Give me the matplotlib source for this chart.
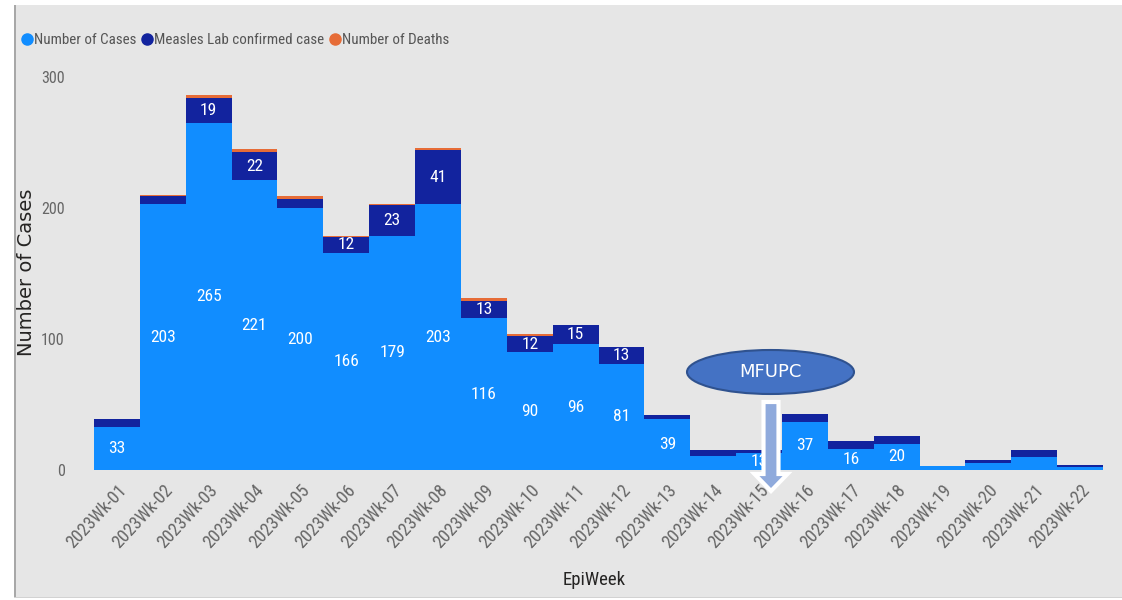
import numpy as np
import matplotlib
matplotlib.use("Agg")
import matplotlib.pyplot as plt
from matplotlib import font_manager
from matplotlib.patches import Rectangle, Ellipse, FancyArrow
from matplotlib.lines import Line2D

## data
weeks = ['2023Wk-%02d' % i for i in range(1, 23)]
cases = [33, 203, 265, 221, 200, 166, 179, 203, 116, 90, 96, 81, 39, 11, 13, 37, 16, 20, 3, 5, 10, 2]
lab = [6, 6, 19, 22, 7, 12, 23, 41, 13, 12, 15, 13, 3, 4, 2, 6, 6, 6, 0, 3, 5, 2]
deaths = [0, 1, 2, 2, 2, 1, 1, 2, 2, 2, 0, 0, 0, 0, 0, 0, 0, 0, 0, 0, 0, 0]
yticks = [0, 100, 200, 300]
legend_labels = ['Number of Cases', 'Measles Lab confirmed case', 'Number of Deaths']

c_cases = '#118DFF'
c_lab = '#12239E'
c_death = '#E66C37'

## pick a narrow font that is installed, Roboto otherwise
have = {f.name for f in font_manager.fontManager.ttflist}
narrow_name = 'Roboto'
for name in ['Liberation Sans Narrow', 'Roboto Condensed', 'Open Sans Condensed',
             'Noto Sans Condensed', 'DejaVu Sans Condensed']:
    if name in have:
        narrow_name = name
        break
narrow = [narrow_name, 'DejaVu Sans']
is_narrow = narrow_name != 'Roboto'
k = 1.0 if is_narrow else 0.85  ## shrink a bit when only the wide font is there

W, H = 1122, 600
fig = plt.figure(figsize=(W / 100, H / 100), dpi=100)
fig.patch.set_facecolor('white')

def px(x, y):
    ## pixel (from top-left) -> figure fraction
    return x / W, 1 - y / H

## grey panel + left/bottom border
x0, y0 = px(14, 598)
fig.patches.append(Rectangle((x0, y0), 1 - x0, 593 / H, transform=fig.transFigure,
                             facecolor='#E6E6E6', edgecolor='none', zorder=-10))
fig.patches.append(Rectangle((x0, y0), 2 / W, 593 / H, transform=fig.transFigure,
                             facecolor='#A8A8A8', edgecolor='none', zorder=-9))
fig.patches.append(Rectangle((x0, y0), 1 - x0, 1.5 / H, transform=fig.transFigure,
                             facecolor='#D2D2D2', edgecolor='none', zorder=-9))

left, bottom = px(94, 470)
_, top = px(0, 77)
ax = fig.add_axes([left, bottom, (1103 - 94) / W, top - bottom])
ax.set_facecolor('none')

x = np.arange(len(weeks))
cases = np.array(cases)
lab = np.array(lab)
deaths = np.array(deaths)
ax.bar(x, cases, width=1.0, color=c_cases, linewidth=0)
ax.bar(x, lab, width=1.0, bottom=cases, color=c_lab, linewidth=0)
ax.bar(x, deaths, width=1.0, bottom=cases + lab, color=c_death, linewidth=0)

## data labels (only where they fit)
for i in range(len(weeks)):
    if cases[i] >= 12:
        ax.text(x[i], cases[i] / 2, str(cases[i]), ha='center', va='center',
                color='white', fontsize=12.5 * k, family=narrow)
    if lab[i] >= 12:
        ax.text(x[i], cases[i] + lab[i] / 2, str(lab[i]), ha='center', va='center',
                color='white', fontsize=12.5 * k, family=narrow)

ax.set_xlim(-0.5, len(weeks) - 0.5)
ax.set_ylim(0, 300)
ax.set_yticks(yticks)
ax.set_yticklabels([str(v) for v in yticks], family=narrow, fontsize=11.5 * k, color='#666666')
ax.set_xticks(x)
ax.set_xticklabels(weeks, rotation=47, ha='right', rotation_mode='anchor',
                   family=narrow, fontsize=13 * k, color='#666666')
ax.tick_params(axis='y', length=0, pad=21)
ax.tick_params(axis='x', length=0, pad=8)
for s in ax.spines.values():
    s.set_visible(False)

fig.text(*px(27, 272), 'Number of Cases', rotation=90, ha='center', va='center',
         fontsize=14, color='#252423')
fig.text(*px(594, 580), 'EpiWeek', ha='center', va='center',
         fontsize=13.5 * k, color='#252423', family=narrow)

## legend
handles = [Line2D([], [], marker='o', linestyle='none', markersize=8, color=c)
           for c in (c_cases, c_lab, c_death)]
fig.legend(handles, legend_labels,
           loc='center left', bbox_to_anchor=px(20, 40), ncol=3, frameon=False,
           borderpad=0, borderaxespad=0,
           handletextpad=0.0, columnspacing=0.3, handlelength=0.9,
           prop={'family': narrow, 'size': 10.8 * k}, labelcolor='#555555')

## MFUPC callout
ex, ey = px(770.5, 372)
fig.patches.append(Ellipse((ex, ey), 167 / W, 44 / H, transform=fig.transFigure,
                           facecolor='#4472C4', edgecolor='#2F528F', linewidth=1.5, zorder=5))
fig.text(ex, ey, 'MFUPC', ha='center', va='center', color='white', fontsize=13, zorder=6)
ax_x, ay_top = px(771, 402)
fig.patches.append(FancyArrow(ax_x, ay_top, 0, -(89 / H), width=15 / W, head_width=33 / W,
                              head_length=17 / H, length_includes_head=True,
                              transform=fig.transFigure, facecolor='#8FAADC',
                              edgecolor='white', linewidth=3, zorder=7))

fig.savefig('out.png', dpi=100)
